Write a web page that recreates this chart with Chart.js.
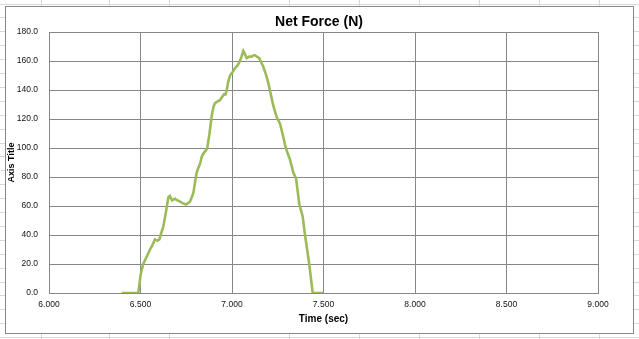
<!DOCTYPE html>
<html>
<head>
<meta charset="utf-8">
<script src="https://cdn.jsdelivr.net/npm/chart.js@4/dist/chart.umd.min.js"></script>
<style>
  html, body { margin: 0; padding: 0; background: #fff; }
  canvas { display: block; }
</style>
</head>
<body>
<canvas id="c" width="639" height="339"></canvas>
<script>
// ---- Data ----
const chartTitle = "Net Force (N)";
const xAxisTitle = "Time (sec)";
const yAxisTitle = "Axis Title";

const times = [
  6.397, 6.488, 6.501, 6.515, 6.530, 6.552, 6.565, 6.579, 6.592, 6.603,
  6.615, 6.625, 6.638, 6.652, 6.660, 6.672, 6.689, 6.700, 6.716, 6.730,
  6.749, 6.760, 6.770, 6.780, 6.789, 6.800, 6.807, 6.815, 6.825, 6.835,
  6.843, 6.855, 6.865, 6.877, 6.889, 6.898, 6.907, 6.920, 6.934, 6.945,
  6.956, 6.965, 6.971, 6.980, 6.989, 7.002, 7.016, 7.030, 7.040, 7.052,
  7.062, 7.070, 7.080, 7.094, 7.108, 7.118, 7.126, 7.136, 7.149, 7.160,
  7.171, 7.185, 7.198, 7.212, 7.226, 7.245, 7.262, 7.276, 7.290, 7.305,
  7.317, 7.335, 7.350, 7.368, 7.386, 7.399, 7.422, 7.441, 7.499
];
const netForce = [
  0, 0, 13, 20, 24, 30, 33, 37, 36, 37,
  42, 46, 55, 66, 67, 64, 65, 64, 63, 62,
  61, 62, 63, 66, 69, 78, 83, 86, 89, 94,
  96, 98, 100, 110, 122, 128, 131, 132, 133, 135,
  137, 137, 140, 146, 150, 152, 155, 157, 159, 163,
  167, 165, 162, 163, 163, 164, 164, 163, 162, 159,
  156, 151, 145, 137, 129, 121, 117, 110, 102, 96,
  92, 83, 79, 61, 53, 40, 20, 0, 0
];
const xMin = 6.0, xMax = 9.0, xStep = 0.5;
const yMin = 0, yMax = 180, yStep = 20;

// ---- Chart ----
const points = times.map((t, i) => ({ x: t, y: netForce[i] }));

const excelBackground = {
  id: 'excelBackground',
  beforeDraw(chart) {
    const ctx = chart.ctx;
    const W = chart.width, H = chart.height;
    ctx.save();
    ctx.fillStyle = '#ffffff';
    ctx.fillRect(0, 0, W, H);
    ctx.strokeStyle = '#d6d9de';
    ctx.lineWidth = 1;
    const cols = [41, 109, 169, 289, 359, 419, 479, 539, 599];
    cols.forEach(x => { ctx.beginPath(); ctx.moveTo(x + 0.5, 0); ctx.lineTo(x + 0.5, H); ctx.stroke(); });
    for (let y = 3.5; y < H; y += 13.9) {
      const yy = Math.round(y) + 0.5;
      ctx.beginPath(); ctx.moveTo(0, yy); ctx.lineTo(W, yy); ctx.stroke();
    }
    ctx.fillStyle = '#ffffff';
    ctx.fillRect(5.5, 6.5, 628, 327);
    ctx.strokeStyle = '#878787';
    ctx.strokeRect(5.5, 6.5, 628, 327);
    ctx.restore();
  }
};

const FONT = "'Liberation Sans', Arial, sans-serif";
const gridColor = '#878787';

new Chart(document.getElementById('c'), {
  type: 'line',
  data: {
    datasets: [{
      label: chartTitle,
      data: points,
      borderColor: '#9bbb59',
      backgroundColor: '#9bbb59',
      borderWidth: 2.6,
      pointRadius: 0,
      tension: 0,
      fill: false
    }]
  },
  options: {
    responsive: false,
    animation: false,
    devicePixelRatio: 1,
    layout: { padding: { left: 5, right: 6, top: 0, bottom: 6 } },
    plugins: {
      legend: { display: false },
      tooltip: { enabled: false },
      title: {
        display: true,
        text: chartTitle,
        color: '#000',
        font: { family: FONT, size: 14, weight: 'bold', lineHeight: 1.2 },
        padding: { top: 14, bottom: 1.2 }
      }
    },
    scales: {
      x: {
        type: 'linear',
        min: xMin, max: xMax,
        afterFit(s) { s.height = 40; },
        ticks: {
          stepSize: xStep,
          padding: 7,
          color: '#111',
          maxRotation: 0,
          font: { family: FONT, size: 8.5 },
          callback: v => Number(v).toFixed(3)
        },
        grid: { color: gridColor, lineWidth: 1, drawTicks: false },
        border: { display: true, color: gridColor, width: 1 },
        title: {
          display: true,
          text: xAxisTitle,
          color: '#000',
          font: { family: FONT, size: 10, weight: 'bold', lineHeight: 1.2 },
          padding: { top: 0, bottom: 8 }
        }
      },
      y: {
        type: 'linear',
        position: 'left',
        min: yMin, max: yMax,
        afterFit(s) { s.width = 44; },
        ticks: {
          stepSize: yStep,
          padding: 11,
          color: '#111',
          font: { family: FONT, size: 8.5 },
          callback: v => Number(v).toFixed(1)
        },
        grid: { color: gridColor, lineWidth: 1, drawTicks: false },
        border: { display: true, color: gridColor, width: 1 },
        title: {
          display: true,
          text: yAxisTitle,
          color: '#000',
          font: { family: FONT, size: 9, weight: 'bold', lineHeight: 1.2 },
          padding: { top: 1.6, bottom: 0 }
        }
      },
      yRight: {
        type: 'linear',
        position: 'right',
        display: true,
        afterFit(s) { s.width = 35; },
        grid: { display: false, drawTicks: false },
        border: { display: false },
        ticks: { display: false }
      }
    }
  },
  plugins: [excelBackground]
});
</script>
</body>
</html>
